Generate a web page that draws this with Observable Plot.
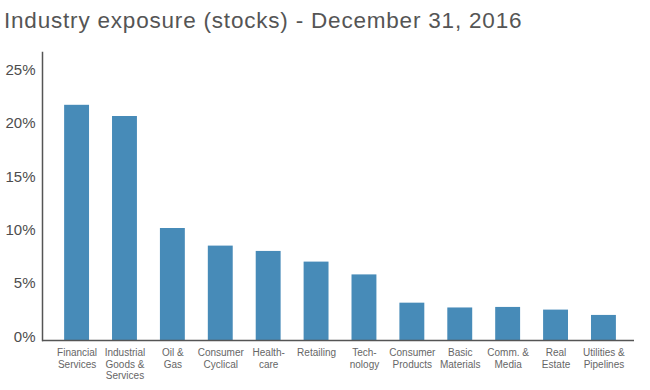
<!DOCTYPE html>
<html>
<head>
<meta charset="utf-8">
<script src="https://cdn.jsdelivr.net/npm/d3@7"></script>
<script src="https://cdn.jsdelivr.net/npm/@observablehq/plot@0.6"></script>
<style>
  html, body { margin: 0; padding: 0; background: #fff; }
  #title { font-family: "Liberation Sans", Arial, sans-serif; font-size: 22.5px; letter-spacing: 0.8px; color: #555; height: 40px; line-height: 42px; padding-left: 4px; box-sizing: border-box; white-space: nowrap; }
  #chart svg { display: block; }
</style>
</head>
<body>
<div id="title">Industry exposure (stocks) - December 31, 2016</div>
<div id="chart"></div>
<script>
const categories = [
  "Financial\nServices",
  "Industrial\nGoods &\nServices",
  "Oil &\nGas",
  "Consumer\nCyclical",
  "Health-\ncare",
  "Retailing",
  "Tech-\nnology",
  "Consumer\nProducts",
  "Basic\nMaterials",
  "Comm. &\nMedia",
  "Real\nEstate",
  "Utilities &\nPipelines"
];
const values = [22.05, 21.0, 10.5, 8.85, 8.35, 7.35, 6.15, 3.5, 3.05, 3.1, 2.85, 2.35];
const yTicks = [0, 5, 10, 15, 20, 25];

const data = categories.map((c, i) => ({category: c, value: values[i]}));

const chart = Plot.plot({
  width: 650,
  height: 350,
  marginLeft: 42,
  marginRight: 16,
  marginTop: 12,
  marginBottom: 50,
  style: { fontFamily: "Liberation Sans, Arial, sans-serif", background: "#fff" },
  x: { domain: categories, paddingInner: 0.48, paddingOuter: 0.42, align: 0.55, round: false, label: null },
  y: { domain: [0, 27], label: null },
  marks: [
    Plot.barY(data, { x: "category", y: "value", fill: "#478bb8" }),
    Plot.axisY({ ticks: yTicks, tickSize: 0, tickPadding: 7, tickFormat: d => d + "%", fontSize: 15, fill: "#4d4d4d", dy: -3.5, label: null }),
    Plot.axisX({ tickSize: 0, tickPadding: 7, fontSize: 10, fill: "#666", lineHeight: 1.17, label: null }),
    Plot.frame({ anchor: "left", stroke: "#555", strokeWidth: 1.5 }),
    Plot.ruleY([0], { stroke: "#555", strokeWidth: 1.5 })
  ]
});
document.getElementById("chart").appendChild(chart);
</script>
</body>
</html>
